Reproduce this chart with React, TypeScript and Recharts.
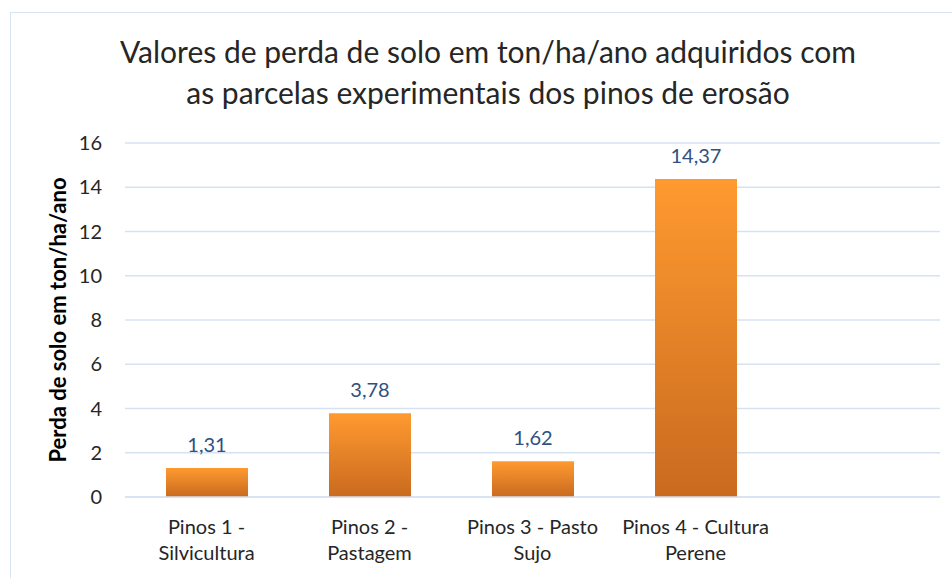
import { Bar, BarChart, CartesianGrid, LabelList, XAxis, YAxis } from 'recharts'

// Perda de solo por parcela (pinos de erosão)
const categories = [
  'Pinos 1 - |Silvicultura',
  'Pinos 2 - |Pastagem',
  'Pinos 3 - Pasto|Sujo',
  'Pinos 4 - Cultura|Perene',
  '',
]
const perdaSolo: (number | null)[] = [1.31, 3.78, 1.62, 14.37, null]
const yTicks = [0, 2, 4, 6, 8, 10, 12, 14, 16]

const data = categories.map((name, i) => ({ name, perda: perdaSolo[i] }))

const FONT = 'Lato, "Open Sans", sans-serif'

function CategoryTick(props: any) {
  const { x, y, payload } = props
  const lines = String(payload.value).split('|')
  return (
    <text x={x} y={y} textAnchor="middle" fill="#262626" fontSize={20} fontFamily={FONT}>
      {lines.map((line: string, i: number) => (
        <tspan key={i} x={x} dy={i === 0 ? 29 : 26}>
          {line.trim()}
        </tspan>
      ))}
    </text>
  )
}

const fmt = (v: any) => (v == null ? '' : Number(v).toFixed(2).replace('.', ','))

export default function App() {
  return (
    <div style={{ position: 'absolute', left: 0, top: 0, width: 952, height: 578, background: '#fff', overflow: 'hidden' }}>
      <div
        style={{
          position: 'absolute',
          left: 10,
          top: 12,
          width: 960,
          height: 600,
          border: '1.5px solid #D9E3F1',
        }}
      />
      <div
        style={{
          position: 'absolute',
          left: 0,
          top: 31,
          width: 976,
          textAlign: 'center',
          fontFamily: FONT,
          fontSize: 30,
          lineHeight: '41px',
          color: '#262626',
        }}
      >
        Valores de perda de solo em ton/ha/ano adquiridos com
        <br />
        as parcelas experimentais dos pinos de erosão
      </div>
      <div style={{ position: 'absolute', left: 0, top: 0 }}>
        <BarChart
          width={952}
          height={578}
          data={data}
          margin={{ top: 143, right: 12, bottom: 21, left: 60 }}
          barCategoryGap="25%"
        >
          <defs>
            <linearGradient id="barGrad" x1="0" y1="0" x2="0" y2="1">
              <stop offset="0%" stopColor="#FF9A30" />
              <stop offset="100%" stopColor="#C96A1F" />
            </linearGradient>
          </defs>
          <CartesianGrid vertical={false} stroke="#D6E2F2" strokeWidth={1.5} />
          <XAxis
            dataKey="name"
            height={60}
            axisLine={{ stroke: '#D6E2F2', strokeWidth: 1.5 }}
            tickLine={false}
            tick={<CategoryTick />}
            interval={0}
          />
          <YAxis
            width={65}
            domain={[0, 16]}
            ticks={yTicks}
            axisLine={false}
            tickLine={false}
            tickMargin={17}
            tick={{ fill: '#262626', fontSize: 20, fontFamily: FONT }}
            label={{
              value: 'Perda de solo em ton/ha/ano',
              angle: -90,
              position: 'insideLeft',
              offset: -2,
              style: { textAnchor: 'middle', fill: '#000', fontSize: 22, fontWeight: 700, fontFamily: FONT },
            }}
          />
          <Bar dataKey="perda" fill="url(#barGrad)" barSize={82} isAnimationActive={false}>
            <LabelList
              dataKey="perda"
              position="top"
              offset={16}
              formatter={fmt}
              style={{ fill: '#2E5180', fontSize: 20, fontFamily: FONT }}
            />
          </Bar>
        </BarChart>
      </div>
    </div>
  )
}
